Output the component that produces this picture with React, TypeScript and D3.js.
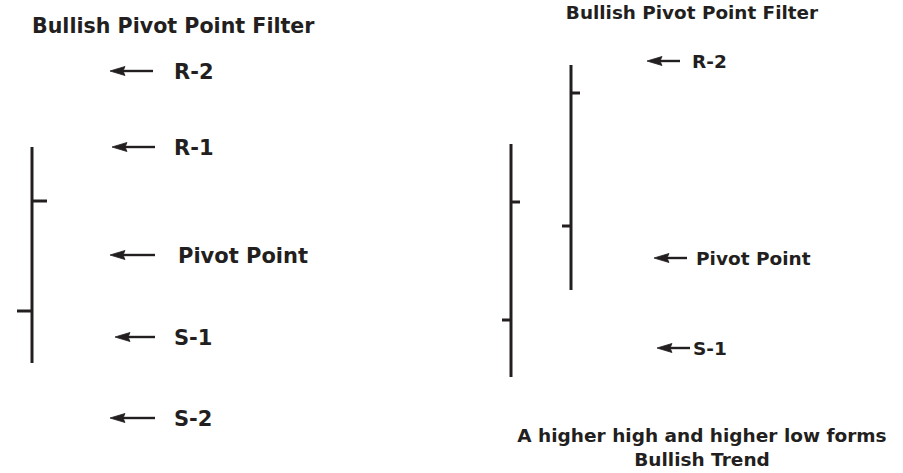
import React from "react";
import * as d3 from "d3";

// ---- data ----
const titleText = "Bullish Pivot Point Filter";
const leftLevels = ["R-2", "R-1", "Pivot Point", "S-1", "S-2"];
const leftLevelValues = [402, 326, 218, 136, 55];
const rightLevels = ["R-2", "Pivot Point", "S-1"];
const rightLevelValues = [412, 215, 125];

const leftBarNames = ["Day 1"];
const leftOpen = [162];
const leftHigh = [326];
const leftLow = [110];
const leftClose = [272];

const rightBarNames = ["Day 1", "Day 2"];
const rightOpen = [153, 247];
const rightHigh = [329, 408];
const rightLow = [96, 183];
const rightClose = [271, 380];

const captionLines = ["A higher high and higher low forms", "Bullish Trend"];

const W = 903;
const H = 473;
const INK = "#231f20";
const FONT = "'DejaVu Sans', Verdana, sans-serif";

const y = d3.scaleLinear().domain([0, H]).range([H, 0]);

const xLeft = d3.scalePoint<string>().domain(leftBarNames).range([32, 32]);
const xRight = d3.scalePoint<string>().domain(rightBarNames).range([511, 571]);

function Arrow({ x1, x2, yv }: { x1: number; x2: number; yv: number }) {
  const head = 15;
  return (
    <g>
      <line x1={x1 + head - 2} x2={x2} y1={yv} y2={yv} stroke={INK} strokeWidth={2.4} />
      <path d={`M${x1},${yv} L${x1 + head},${yv - 4.5} L${x1 + head - 2},${yv} L${x1 + head},${yv + 4.5} Z`} fill={INK} stroke={INK} strokeWidth={0.8} strokeLinejoin="round" />
    </g>
  );
}

function Bar({ x, o, h, l, c, tick, sw }: { x: number; o: number; h: number; l: number; c: number; tick: number; sw: number }) {
  return (
    <g stroke={INK} strokeWidth={sw}>
      <line x1={x} x2={x} y1={y(h)} y2={y(l)} />
      <line x1={x - tick} x2={x} y1={y(o)} y2={y(o)} />
      <line x1={x} x2={x + tick} y1={y(c)} y2={y(c)} />
    </g>
  );
}

const leftArrowX = [[110, 153], [112, 155], [110, 155], [115, 155], [110, 155]];
const leftLabelX = [174, 174, 178, 174, 174];
const rightArrowX = [[647, 680], [654, 687], [657, 690]];
const rightLabelX = [692, 696, 693];

export default function App() {
  const fsL = 21;
  const fsR = 18.5;
  return (
    <svg width={W} height={H} style={{ position: "absolute", left: 0, top: 0, background: "#fff" }} fontFamily={FONT} fontWeight="bold">
      <rect x={0} y={0} width={W} height={H} fill="#fff" />
      {/* Left panel */}
      <text x={32} y={33} fontSize={20.6} fill={INK}>{titleText}</text>
      {leftLevels.map((lab, i) => {
        const yv = y(leftLevelValues[i]);
        return (
          <g key={"l" + i}>
            <Arrow x1={leftArrowX[i][0]} x2={leftArrowX[i][1]} yv={yv} />
            <text x={leftLabelX[i]} y={yv + fsL * 0.36} fontSize={fsL} fill={INK}>{lab}</text>
          </g>
        );
      })}
      {leftBarNames.map((n, i) => (
        <Bar key={n} x={xLeft(n)!} o={leftOpen[i]} h={leftHigh[i]} l={leftLow[i]} c={leftClose[i]} tick={15} sw={3} />
      ))}

      {/* Right panel */}
      <text x={692} y={19} fontSize={18.4} fill={INK} textAnchor="middle">{titleText}</text>
      {rightLevels.map((lab, i) => {
        const yv = y(rightLevelValues[i]);
        return (
          <g key={"r" + i}>
            <Arrow x1={rightArrowX[i][0]} x2={rightArrowX[i][1]} yv={yv} />
            <text x={rightLabelX[i]} y={yv + fsR * 0.36} fontSize={fsR} fill={INK}>{lab}</text>
          </g>
        );
      })}
      {rightBarNames.map((n, i) => (
        <Bar key={n} x={xRight(n)!} o={rightOpen[i]} h={rightHigh[i]} l={rightLow[i]} c={rightClose[i]} tick={9} sw={3} />
      ))}
      {captionLines.map((t, i) => (
        <text key={t} x={702} y={442 + i * 24} fontSize={18.5} fill={INK} textAnchor="middle">{t}</text>
      ))}
    </svg>
  );
}
